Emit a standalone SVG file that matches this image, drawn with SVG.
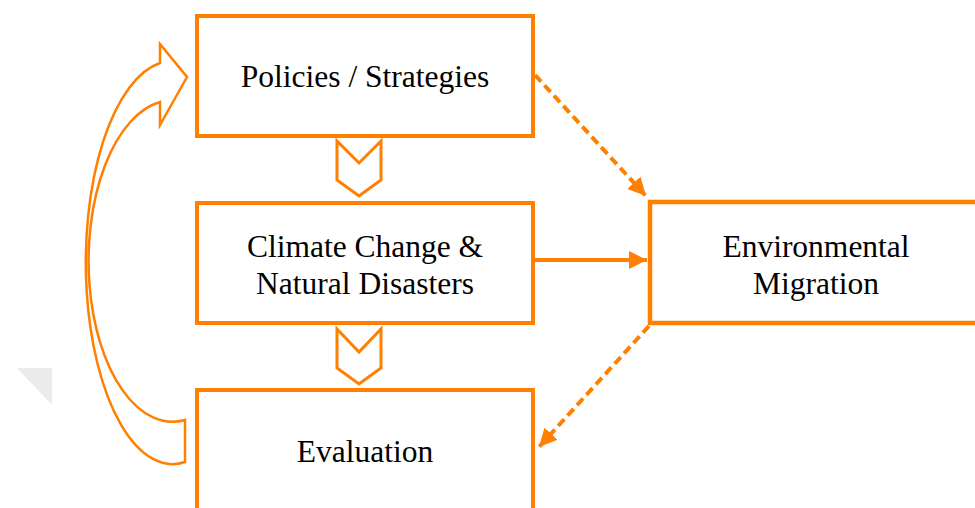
<svg xmlns="http://www.w3.org/2000/svg" width="975" height="508" viewBox="0 0 975 508">
<style>
.box{fill:#fff;stroke:#FF7F00;stroke-width:4}
.lbl{font-family:"Liberation Serif","Times New Roman",serif;font-size:31.5px;fill:#000;text-anchor:middle}
.chev{fill:#fff;stroke:#FF7F00;stroke-width:3;stroke-linejoin:miter}
.dash{fill:none;stroke:#FF7F00;stroke-width:4;stroke-dasharray:9 5}
.solid{fill:none;stroke:#FF7F00;stroke-width:4}
</style>
<defs>
<marker id="ah" viewBox="0 0 10 10" refX="10" refY="5" markerWidth="4.5" markerHeight="4.5" markerUnits="strokeWidth" orient="auto">
<path d="M0,0 L10,5 L0,10 Z" fill="#FF7F00"/>
</marker>
</defs>
<rect width="975" height="508" fill="#fff"/>
<polygon points="17,368 52,368 52,405" fill="#ebebeb"/>
<g id="connectors">
<path class="dash" d="M535,75 L646,196" marker-end="url(#ah)"/>
<path class="solid" d="M535,260 L647,260" marker-end="url(#ah)"/>
<path class="dash" d="M649,326 L539,447" marker-end="url(#ah)"/>
<polygon class="chev" points="337,141 359,163 381,141 381,180 359,196 337,180"/>
<polygon class="chev" points="337,329 359,352 381,329 381,368 359,384 337,368"/>
<path fill="#fff" stroke="#FF7F00" stroke-width="2.5" stroke-linejoin="miter" d="M160,63 L160,44 L187,77 L160,125 L160,102 A83,159 0 0,0 185,420 L185,462 A86,200 0 0,1 160,63 Z"/>
</g>
<g id="policies">
<rect class="box" x="197" y="16" width="336" height="120"/>
<text class="lbl" x="365" y="87">Policies / Strategies</text>
</g>
<g id="climate">
<rect class="box" x="197" y="203" width="336" height="120"/>
<text class="lbl" x="365" y="257">Climate Change &amp;</text>
<text class="lbl" x="365" y="294">Natural Disasters</text>
</g>
<g id="evaluation">
<rect class="box" x="197" y="390" width="336" height="140"/>
<text class="lbl" x="365" y="462">Evaluation</text>
</g>
<g id="migration">
<rect class="box" x="650" y="202" width="335" height="121" style="stroke-width:4.5"/>
<text class="lbl" x="816" y="257">Environmental</text>
<text class="lbl" x="816" y="294">Migration</text>
</g>
</svg>
